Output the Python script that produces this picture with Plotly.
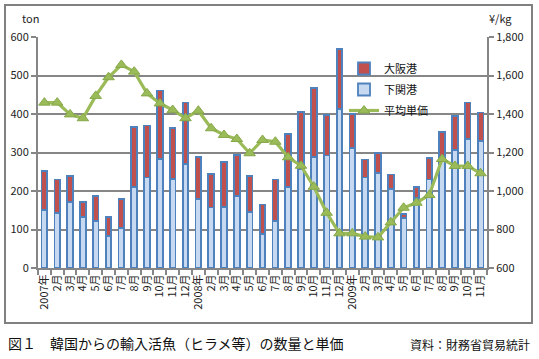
import plotly.graph_objects as go

months = ["2007年", "2月", "3月", "4月", "5月", "6月", "7月", "8月", "9月", "10月", "11月", "12月",
          "2008年", "2月", "3月", "4月", "5月", "6月", "7月", "8月", "9月", "10月", "11月", "12月",
          "2009年", "2月", "3月", "4月", "5月", "6月", "7月", "8月", "9月", "10月", "11月"]

# 下関港 (ton)
shimonoseki = [151, 142, 172, 133, 122, 83, 104, 210, 235, 283, 231, 270,
               179, 157, 159, 188, 145, 88, 123, 210, 257, 289, 292, 413,
               311, 235, 246, 205, 129, 181, 230, 283, 306, 335, 330]
# 合計 (ton)
total = [252, 230, 240, 172, 188, 132, 179, 367, 370, 461, 363, 430,
         289, 245, 275, 293, 238, 165, 230, 349, 405, 467, 397, 568,
         399, 282, 298, 243, 140, 210, 285, 354, 395, 430, 404]
osaka = [t - s for t, s in zip(total, shimonoseki)]
# 平均単価 (円/kg)
price = [1459, 1459, 1398, 1378, 1494, 1591, 1655, 1620, 1507, 1455, 1421, 1378,
         1417, 1326, 1291, 1270, 1196, 1265, 1256, 1175, 1131, 1022, 887, 780,
         780, 763, 759, 837, 913, 939, 979, 1166, 1130, 1130, 1092]

x = list(range(len(months)))

BLUE = "#4F81BD"
LIGHT = "#C6D9F1"
RED = "#C0504D"
GREEN = "#9BBB59"
GRID = "#868686"
FONT = "Noto Sans CJK JP"

fig = go.Figure()
fig.add_trace(go.Bar(x=x, y=shimonoseki, name="下関港", width=0.44,
                     marker=dict(color=LIGHT, line=dict(color=BLUE, width=1.8)),
                     legendgroup="b", legendrank=2))
fig.add_trace(go.Bar(x=x, y=osaka, name="大阪港", width=0.44,
                     marker=dict(color=RED, line=dict(color=BLUE, width=1.8)),
                     legendgroup="a", legendrank=1))
fig.add_trace(go.Scatter(x=x, y=price, name="平均単価", yaxis="y2", mode="lines+markers",
                         line=dict(color=GREEN, width=3.2),
                         marker=dict(symbol="triangle-up", size=10, color=GREEN,
                                     line=dict(color="#86A84A", width=1)),
                         legendgroup="c", legendrank=3))

L, R, T, B = 38, 52, 37, 91
pw = 539 - L - R
ph = 359 - T - B

def px(xp):
    return (xp - L) / pw

def py(yp):
    return (359 - B - yp) / ph

fig.update_layout(
    width=539, height=359,
    margin=dict(l=L, r=R, t=T, b=B, autoexpand=False),
    paper_bgcolor="white", plot_bgcolor="white",
    barmode="stack",
    font=dict(family=FONT, size=11, color="#222222"),
    showlegend=True,
    legend=dict(x=px(344), y=py(54), xanchor="left", yanchor="top",
                bgcolor="rgba(0,0,0,0)", traceorder="grouped",
                font=dict(size=11, color="#111111"), tracegroupgap=2,
                itemwidth=30),
    xaxis=dict(range=[-0.5, len(months) - 0.5], tickvals=x, ticktext=months,
               tickangle=-90, ticks="", showgrid=False, showline=True,
               linecolor=GRID, linewidth=2, zeroline=False,
               tickfont=dict(size=11, color="#222222"),
               minor=dict(tickvals=[i - 0.5 for i in range(len(months) + 1)],
                          ticks="outside", ticklen=5, tickcolor=GRID, tickwidth=2)),
    yaxis=dict(range=[0, 600], dtick=100, showgrid=True, gridcolor=GRID, gridwidth=2,
               showline=True, linecolor=GRID, linewidth=2, zeroline=False,
               ticks="outside", ticklen=5, tickcolor=GRID, tickwidth=2,
               tickfont=dict(size=11, color="#222222")),
    yaxis2=dict(range=[600, 1800], dtick=200, overlaying="y", side="right",
                showgrid=False, showline=True, linecolor=GRID, linewidth=2,
                zeroline=False, tickformat=",d", ticks="outside", ticklen=5,
                tickcolor=GRID, tickwidth=2,
                tickfont=dict(size=11, color="#222222")),
)

# outer frame
fig.add_shape(type="rect", xref="paper", yref="paper",
              x0=px(5), x1=px(532), y0=py(323), y1=py(5),
              line=dict(color="#808080", width=2), fillcolor="rgba(0,0,0,0)", layer="below")

fig.add_annotation(text="ton", xref="paper", yref="paper", x=px(20), y=py(18),
                   xanchor="left", yanchor="middle",
                   showarrow=False, font=dict(size=11, color="#222222"))
fig.add_annotation(text="¥/kg", xref="paper", yref="paper", x=px(487), y=py(18),
                   xanchor="left", yanchor="middle",
                   showarrow=False, font=dict(size=11, color="#222222"))
fig.add_annotation(text="図１　韓国からの輸入活魚（ヒラメ等）の数量と単価", xref="paper", yref="paper",
                   x=px(6), y=py(343), xanchor="left", yanchor="middle", showarrow=False,
                   font=dict(size=14, color="#111111"))
fig.add_annotation(text="資料：財務省貿易統計", xref="paper", yref="paper",
                   x=px(532), y=py(344), xanchor="right", yanchor="middle", showarrow=False,
                   font=dict(size=12, color="#111111"))

fig.write_html("out.html", config={"displayModeBar": False},
               post_script="document.body.style.margin='0';")
